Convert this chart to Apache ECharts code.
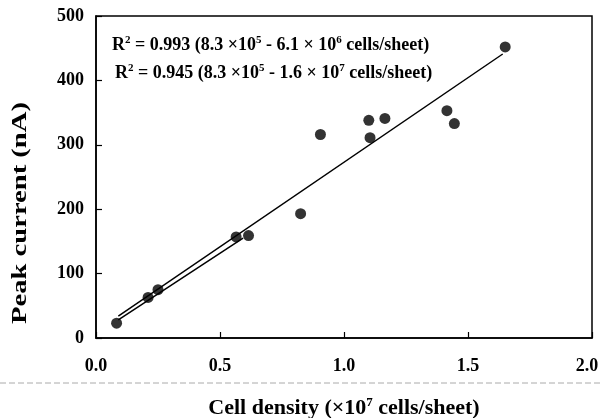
<!DOCTYPE html>
<html>
<head>
<meta charset="utf-8">
<script src="https://cdn.jsdelivr.net/npm/echarts@6/dist/echarts.min.js"></script>
<style>
  html, body { margin: 0; padding: 0; background: #fff; }
  #chart { width: 602px; height: 418px; }
</style>
</head>
<body>
<div id="chart"></div>
<script>
// measured points (x in 10^7 cells/sheet, y in nA)
const cellDensity = [0.083, 0.21, 0.25, 0.565, 0.615, 0.825, 0.905, 1.10, 1.105, 1.165, 1.415, 1.445, 1.65];
const peakCurrent = [23, 63, 75, 157, 159, 193, 316, 338, 311, 341, 353, 333, 452];

// fit lines, end points
const fitLowX = [0.09, 0.593];
const fitLowY = [28, 155];
const fitAllX = [0.09, 1.64];
const fitAllY = [34, 441];

const xTicks = [0, 0.5, 1.0, 1.5, 2.0];
const yTicks = [0, 100, 200, 300, 400, 500];

const fitLabels = [
  '{b|R}{s|2}{b| = 0.993 (8.3 ×10}{s|5}{b| - 6.1 × 10}{s|6}{b| cells/sheet)}',
  '{b|R}{s|2}{b| = 0.945 (8.3 ×10}{s|5}{b| - 1.6 × 10}{s|7}{b| cells/sheet)}'
];

const serif = '"Liberation Serif", "DejaVu Serif", serif';
const pairs = (xs, ys) => xs.map((x, i) => [x, ys[i]]);
const xMax = xTicks[xTicks.length - 1];

const rich = {
  b: { fontFamily: serif, fontWeight: 'bold', fontSize: 18, color: '#000' },
  s: { fontFamily: serif, fontWeight: 'bold', fontSize: 11, color: '#000', padding: [0, 0, 10, 0] }
};

const chart = echarts.init(document.getElementById('chart'), null, { renderer: 'canvas' });

chart.setOption({
  animation: false,
  backgroundColor: '#fff',
  grid: { left: 96, right: 10, top: 16, bottom: 80, outerBoundsMode: 'none',
    show: true, borderColor: '#000', borderWidth: 1.5 },
  xAxis: {
    type: 'value', min: xTicks[0], max: xMax, interval: 0.5,
    name: 'Cell density (×10{s|7} cells/sheet)', nameLocation: 'middle', nameGap: 58,
    nameTextStyle: { fontFamily: serif, fontWeight: 'bold', fontSize: 22, color: '#000',
      rich: { s: { fontFamily: serif, fontWeight: 'bold', fontSize: 13, padding: [0, 0, 11, 0] } } },
    axisLine: { lineStyle: { color: '#000', width: 1.5 } },
    axisTick: { inside: true, length: 6, lineStyle: { color: '#000', width: 1.2 } },
    axisLabel: { margin: 19, fontFamily: serif, fontWeight: 'bold', fontSize: 18, color: '#000',
      // last label sits a bit left so it stays inside the page
      formatter: v => v === xMax ? '{m|' + v.toFixed(1) + '}' : v.toFixed(1),
      rich: { m: { fontFamily: serif, fontWeight: 'bold', fontSize: 18, color: '#000', padding: [0, 10, 0, 0] } } },
    splitLine: { show: false }
  },
  yAxis: {
    type: 'value', min: yTicks[0], max: yTicks[yTicks.length - 1], interval: 100,
    axisLine: { show: true, lineStyle: { color: '#000', width: 1.5 } },
    axisTick: { show: true, inside: true, length: 6, lineStyle: { color: '#000', width: 1.2 } },
    axisLabel: { margin: 12, fontFamily: serif, fontWeight: 'bold', fontSize: 18, color: '#000' },
    splitLine: { show: false }
  },
  graphic: [
    { type: 'text', x: 20, y: 213, rotation: Math.PI / 2, scaleX: 1.3,
      style: { text: 'Peak current (nA)', font: 'bold 22px ' + serif, align: 'center', verticalAlign: 'middle', fill: '#000' } },
    { type: 'text', x: 112, y: 45, style: { text: fitLabels[0], rich, verticalAlign: 'middle' } },
    { type: 'text', x: 115, y: 73, style: { text: fitLabels[1], rich, verticalAlign: 'middle' } },
    { type: 'line', shape: { x1: 0, y1: 383, x2: 602, y2: 383 },
      style: { stroke: '#aaa', lineWidth: 1, lineDash: [6, 3] } }
  ],
  series: [
    { type: 'line', data: pairs(fitAllX, fitAllY), symbol: 'none', lineStyle: { color: '#000', width: 1.5 }, z: 2 },
    { type: 'line', data: pairs(fitLowX, fitLowY), symbol: 'none', lineStyle: { color: '#000', width: 1.5 }, z: 2 },
    { type: 'scatter', data: pairs(cellDensity, peakCurrent), symbol: 'circle', symbolSize: 11,
      itemStyle: { color: '#000' }, z: 3 }
  ]
});
</script>
</body>
</html>
